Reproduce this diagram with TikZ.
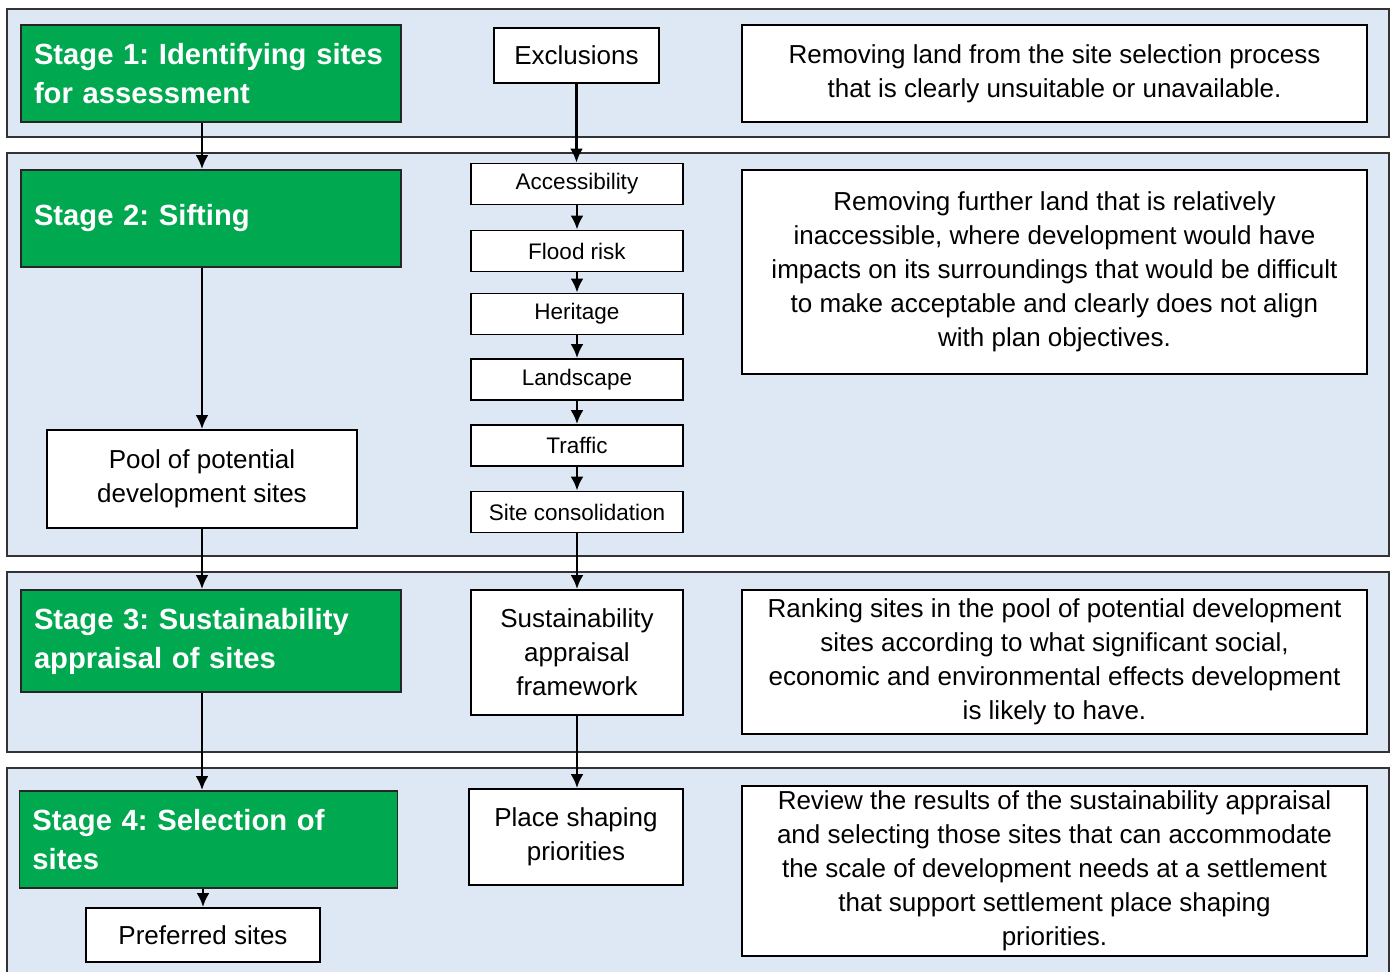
\documentclass[tikz,border=0pt]{standalone}
\usepackage{fontspec}
\setmainfont{Liberation Sans}
\usepackage{tikz}
\usetikzlibrary{arrows.meta}
\frenchspacing
\definecolor{bandblue}{RGB}{222,232,244}
\definecolor{stagegreen}{RGB}{0,168,80}
\tikzset{
    bandbox/.style = {
        fill=bandblue,
        draw=black!80,
        line width=0.8pt
    },
    stagenode/.style = {
        rectangle,
        fill=stagegreen,
        draw=black!85,
        line width=0.9pt,
        text=white,
        font=\fontsize{14.6}{19.5}\selectfont\bfseries,
        align=left,
        text width=177pt,
        inner xsep=6.5pt,
        inner ysep=0pt,
        minimum height=48.5pt
    },
    infonode/.style = {
        rectangle,
        fill=white,
        draw=black,
        line width=0.9pt,
        align=center,
        font=\fontsize{13}{17}\selectfont,
        inner sep=0pt
    },
    filternode/.style = {
        infonode,
        font=\fontsize{11.25}{14}\selectfont,
        minimum width=106pt,
        minimum height=20.5pt
    },
    notenode/.style = {
        infonode,
        line width=0.7pt,
        minimum width=312.5pt
    },
    flowarrow/.style = {
        -{Latex[length=7pt,width=6.5pt]},
        line width=1.4pt
    }
}

\begin{document}
\begin{tikzpicture}[x=0.5pt, y=-0.5pt]
    \useasboundingbox (0,0) rectangle (1394,971);
    % background bands
    \foreach \ytop/\ybot in {9/137, 153/556, 572/752, 768/975}
        \draw [bandbox] (7,\ytop) rectangle (1389,\ybot);

    % left column
    \node [stagenode] (s1) at (211,73.5) {Stage 1: Identifying sites\\for assessment};
    \node [stagenode] (s2) at (211,218.5) {Stage 2: Sifting};
    \node [infonode, minimum width=155pt, minimum height=49pt] (pool) at (202,479) {Pool of potential\\development sites};
    \node [stagenode, minimum height=51pt] (s3) at (211,641) {Stage 3: Sustainability\\appraisal of sites};
    \node [stagenode, text width=176pt] (s4) at (208.5,839.5) {Stage 4: Selection of\\sites};
    \node [infonode, minimum width=117pt, minimum height=27pt] (pref) at (203,935) {Preferred sites};

    % middle column
    \node [infonode, minimum width=82.5pt, minimum height=27.5pt] (excl) at (576.5,55.5) {Exclusions};
    \node [filternode] (access) at (577,184) {Accessibility};
    \node [filternode] (flood) at (577,251) {Flood risk};
    \node [filternode] (heritage) at (577,314) {Heritage};
    \node [filternode] (landscape) at (577,379.5) {Landscape};
    \node [filternode] (traffic) at (577,445.5) {Traffic};
    \node [filternode] (consol) at (577,512) {Site consolidation};
    \node [infonode, minimum width=106pt, minimum height=62.5pt] (saf) at (577,652.5) {Sustainability\\appraisal\\framework};
    \node [infonode, minimum width=107pt, minimum height=48pt] (place) at (576,837) {Place shaping\\priorities};

    % right column
    \node [notenode, minimum height=48.5pt] (note1) at (1054.5,73.5) {Removing land from the site selection process\\that is clearly unsuitable or unavailable.};
    \node [notenode, minimum height=102pt] (note2) at (1054.5,272) {Removing further land that is relatively\\inaccessible, where development would have\\impacts on its surroundings that would be difficult\\to make acceptable and clearly does not align\\with plan objectives.};
    \node [notenode, minimum height=72pt] (note3) at (1054.5,662) {Ranking sites in the pool of potential development\\sites according to what significant social,\\economic and environmental effects development\\is likely to have.};
    \node [notenode, minimum height=85pt] (note4) at (1054.5,871) {Review the results of the sustainability appraisal\\and selecting those sites that can accommodate\\the scale of development needs at a settlement\\that support settlement place shaping\\priorities.};

    % arrows
    \draw [flowarrow] (s1.south -| pool) -- (s2.north -| pool);
    \draw [flowarrow] (s2.south -| pool) -- (pool);
    \draw [flowarrow] (pool) -- (pool |- s3.north);
    \draw [flowarrow] (s3.south -| pool) -- (s4.north -| pool);
    \draw [flowarrow] (s4.south -| pref) -- (pref);
    \draw [flowarrow] (excl) -- (excl |- access.north);
    \foreach \a/\b in {access/flood, flood/heritage, heritage/landscape, landscape/traffic, traffic/consol, consol/saf, saf/place}
        \draw [flowarrow] (\a) -- (\a |- \b.north);
\end{tikzpicture}
\end{document}
